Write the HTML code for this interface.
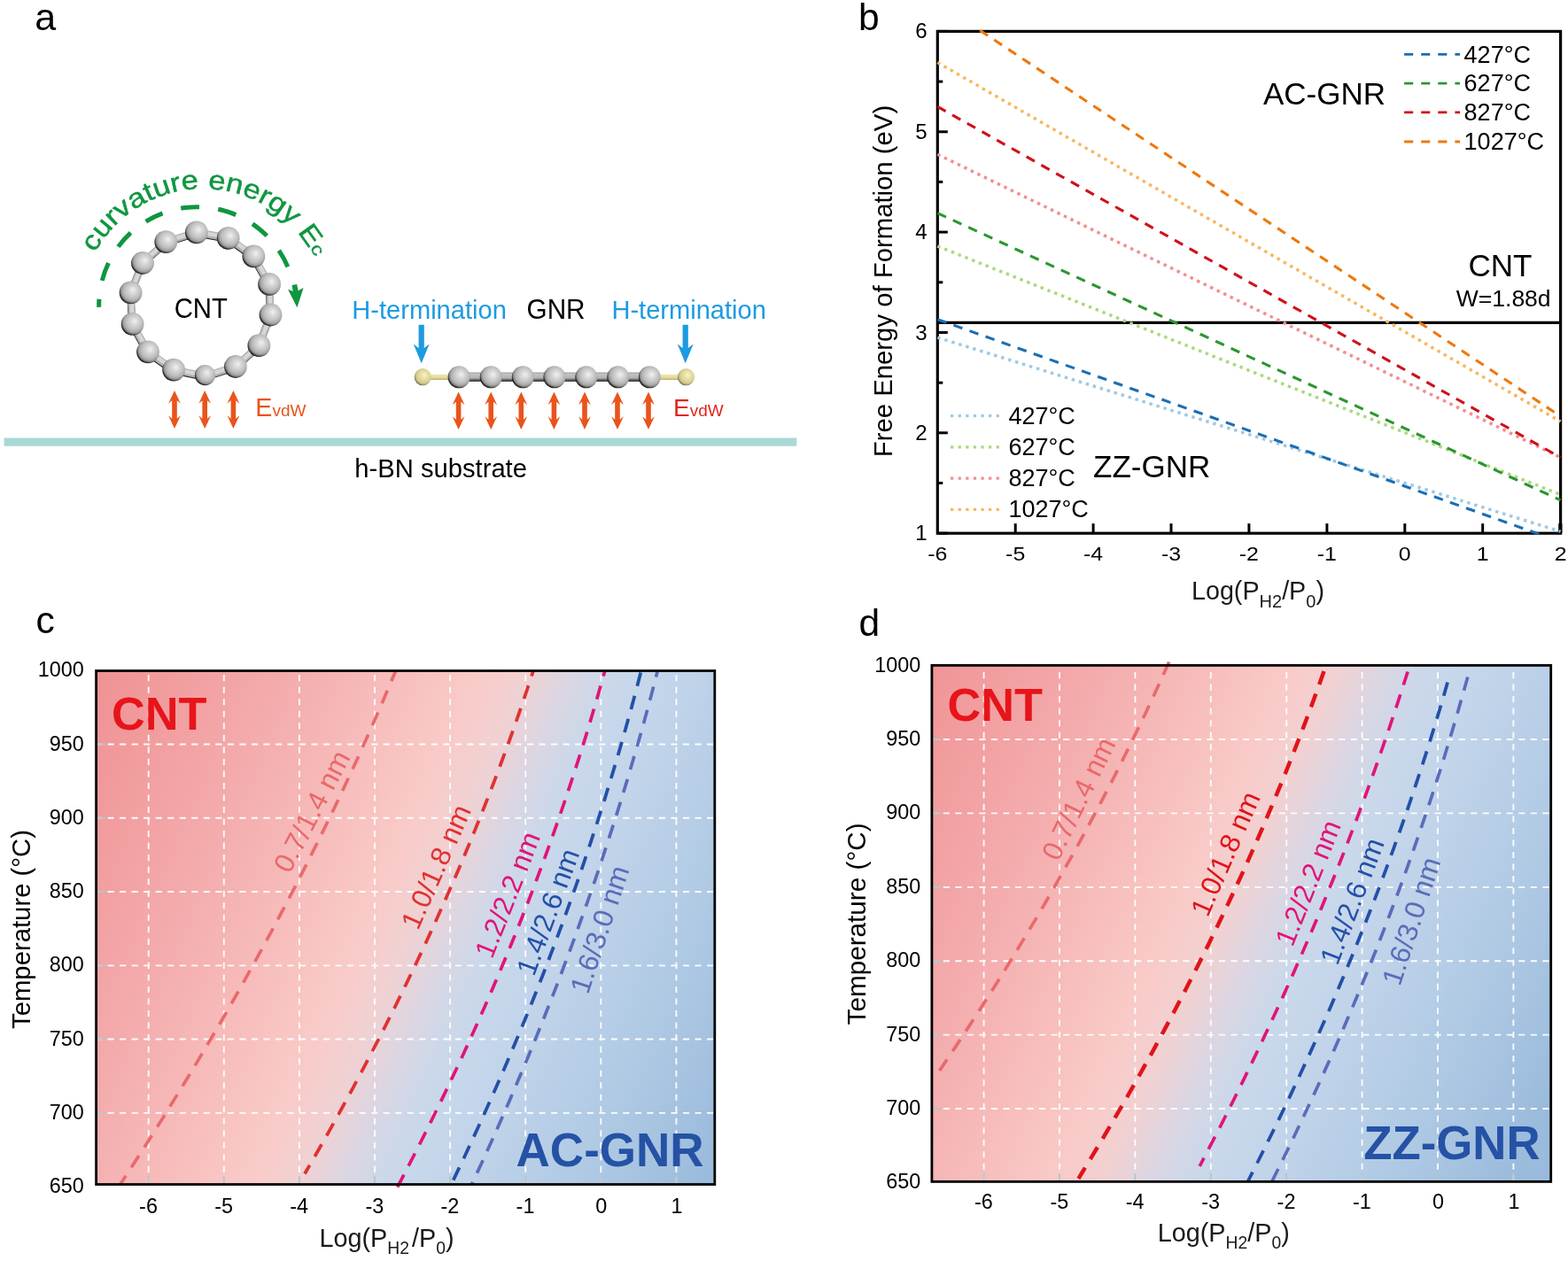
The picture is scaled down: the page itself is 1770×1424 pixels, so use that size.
<!DOCTYPE html>
<html lang="en"><head><meta charset="utf-8"><title>Figure</title>
<style>
html,body{margin:0;padding:0;background:#fff;}
body{width:1770px;height:1424px;overflow:hidden;}
svg{display:block;font-family:'Liberation Sans', sans-serif;}
</style></head><body>
<svg width="1770" height="1424" viewBox="0 0 1770 1424" font-family="'Liberation Sans', sans-serif">

<defs>
<radialGradient id="gC" cx="0.565" cy="0.425" r="0.60" fx="0.60" fy="0.38">
 <stop offset="0" stop-color="#f1f1f1"/>
 <stop offset="0.25" stop-color="#dadada"/>
 <stop offset="0.55" stop-color="#c2c2c2"/>
 <stop offset="0.74" stop-color="#aaaaaa"/>
 <stop offset="0.85" stop-color="#858585"/>
 <stop offset="0.92" stop-color="#3c3c3c"/>
 <stop offset="1" stop-color="#000"/>
</radialGradient>
<radialGradient id="gH" cx="0.565" cy="0.425" r="0.60" fx="0.60" fy="0.38">
 <stop offset="0" stop-color="#f8f3cf"/>
 <stop offset="0.3" stop-color="#ebe2aa"/>
 <stop offset="0.7" stop-color="#d9cf93"/>
 <stop offset="0.88" stop-color="#b3a976"/>
 <stop offset="0.96" stop-color="#6d6645"/>
 <stop offset="1" stop-color="#3a3624"/>
</radialGradient>
<linearGradient id="gBond" x1="0" y1="0" x2="0" y2="1">
 <stop offset="0" stop-color="#8a8a8a"/>
 <stop offset="0.15" stop-color="#c4c4c4"/>
 <stop offset="0.6" stop-color="#b4b4b4"/>
 <stop offset="0.8" stop-color="#6a6a6a"/>
 <stop offset="1" stop-color="#151515"/>
</linearGradient>
<linearGradient id="gBondH" x1="0" y1="0" x2="0" y2="1">
 <stop offset="0" stop-color="#efe8b4"/>
 <stop offset="0.6" stop-color="#e2d99c"/>
 <stop offset="1" stop-color="#b8ae74"/>
</linearGradient>
<linearGradient id="gBondR" x1="0" y1="0" x2="0" y2="1">
 <stop offset="0" stop-color="#9a9a9a"/>
 <stop offset="0.3" stop-color="#d0d0d0"/>
 <stop offset="0.7" stop-color="#b0b0b0"/>
 <stop offset="1" stop-color="#5a5a5a"/>
</linearGradient>
<linearGradient id="gradc" gradientUnits="userSpaceOnUse" x1="87" y1="758" x2="891.3" y2="1117.5"><stop offset="0" stop-color="#ef8f91"/><stop offset="0.25" stop-color="#f4acad"/><stop offset="0.47" stop-color="#f9cbc8"/><stop offset="0.525" stop-color="#f1d1d2"/><stop offset="0.575" stop-color="#dcd6e2"/><stop offset="0.625" stop-color="#cbd8ea"/><stop offset="0.68" stop-color="#c5d6eb"/><stop offset="0.85" stop-color="#b0cae4"/><stop offset="1" stop-color="#9bbbdc"/></linearGradient>
<linearGradient id="gradd" gradientUnits="userSpaceOnUse" x1="1004.3" y1="752" x2="1805.0" y2="1119.5"><stop offset="0" stop-color="#ef8f91"/><stop offset="0.25" stop-color="#f4acad"/><stop offset="0.47" stop-color="#f9cbc8"/><stop offset="0.525" stop-color="#f1d1d2"/><stop offset="0.575" stop-color="#dcd6e2"/><stop offset="0.625" stop-color="#cbd8ea"/><stop offset="0.68" stop-color="#c5d6eb"/><stop offset="0.85" stop-color="#b0cae4"/><stop offset="1" stop-color="#9bbbdc"/></linearGradient>
</defs>

<rect width="1770" height="1424" fill="#fff"/>
<g id="pa">
<text x="39.3" y="33.9" font-size="43" fill="#000">a</text>
<rect x="4.6" y="494.5" width="894.7" height="9.3" fill="#a9d9d4"/>
<text x="400.3" y="538.5" font-size="29.2" fill="#000">h-BN substrate</text>
<line x1="221.5" y1="263.4" x2="257.3" y2="269.8" stroke="#1c1c1c" stroke-width="8.2" />
<line x1="221.9" y1="262.4" x2="257.7" y2="268.8" stroke="#b0b0b0" stroke-width="8.2" />
<line x1="222.2" y1="261.7" x2="258.0" y2="268.1" stroke="#d6d6d6" stroke-width="4.6" />
<line x1="257.3" y1="269.8" x2="286.0" y2="290.4" stroke="#1c1c1c" stroke-width="8.2" />
<line x1="257.7" y1="268.8" x2="286.4" y2="289.4" stroke="#b0b0b0" stroke-width="8.2" />
<line x1="258.0" y1="268.1" x2="286.7" y2="288.7" stroke="#d6d6d6" stroke-width="4.6" />
<line x1="286.0" y1="290.4" x2="303.7" y2="321.9" stroke="#1c1c1c" stroke-width="8.2" />
<line x1="286.4" y1="289.4" x2="304.1" y2="320.9" stroke="#b0b0b0" stroke-width="8.2" />
<line x1="286.7" y1="288.7" x2="304.4" y2="320.2" stroke="#d6d6d6" stroke-width="4.6" />
<line x1="303.7" y1="321.9" x2="305.1" y2="356.5" stroke="#1c1c1c" stroke-width="8.2" />
<line x1="304.1" y1="320.9" x2="305.5" y2="355.5" stroke="#b0b0b0" stroke-width="8.2" />
<line x1="304.4" y1="320.2" x2="305.8" y2="354.8" stroke="#d6d6d6" stroke-width="4.6" />
<line x1="305.1" y1="356.5" x2="292.0" y2="391.1" stroke="#1c1c1c" stroke-width="8.2" />
<line x1="305.5" y1="355.5" x2="292.4" y2="390.1" stroke="#b0b0b0" stroke-width="8.2" />
<line x1="305.8" y1="354.8" x2="292.7" y2="389.4" stroke="#d6d6d6" stroke-width="4.6" />
<line x1="292.0" y1="391.1" x2="265.5" y2="415.0" stroke="#1c1c1c" stroke-width="8.2" />
<line x1="292.4" y1="390.1" x2="265.9" y2="414.0" stroke="#b0b0b0" stroke-width="8.2" />
<line x1="292.7" y1="389.4" x2="266.2" y2="413.3" stroke="#d6d6d6" stroke-width="4.6" />
<line x1="265.5" y1="415.0" x2="231.1" y2="425.8" stroke="#1c1c1c" stroke-width="8.2" />
<line x1="265.9" y1="414.0" x2="231.5" y2="424.8" stroke="#b0b0b0" stroke-width="8.2" />
<line x1="266.2" y1="413.3" x2="231.8" y2="424.1" stroke="#d6d6d6" stroke-width="4.6" />
<line x1="231.1" y1="425.8" x2="195.7" y2="418.6" stroke="#1c1c1c" stroke-width="8.2" />
<line x1="231.5" y1="424.8" x2="196.1" y2="417.6" stroke="#b0b0b0" stroke-width="8.2" />
<line x1="231.8" y1="424.1" x2="196.4" y2="416.9" stroke="#d6d6d6" stroke-width="4.6" />
<line x1="195.7" y1="418.6" x2="166.6" y2="398.3" stroke="#1c1c1c" stroke-width="8.2" />
<line x1="196.1" y1="417.6" x2="167.0" y2="397.3" stroke="#b0b0b0" stroke-width="8.2" />
<line x1="196.4" y1="416.9" x2="167.3" y2="396.6" stroke="#d6d6d6" stroke-width="4.6" />
<line x1="166.6" y1="398.3" x2="149.2" y2="366.8" stroke="#1c1c1c" stroke-width="8.2" />
<line x1="167.0" y1="397.3" x2="149.6" y2="365.8" stroke="#b0b0b0" stroke-width="8.2" />
<line x1="167.3" y1="396.6" x2="149.9" y2="365.1" stroke="#d6d6d6" stroke-width="4.6" />
<line x1="149.2" y1="366.8" x2="147.2" y2="331.4" stroke="#1c1c1c" stroke-width="8.2" />
<line x1="149.6" y1="365.8" x2="147.6" y2="330.4" stroke="#b0b0b0" stroke-width="8.2" />
<line x1="149.9" y1="365.1" x2="147.9" y2="329.7" stroke="#d6d6d6" stroke-width="4.6" />
<line x1="147.2" y1="331.4" x2="160.6" y2="298.0" stroke="#1c1c1c" stroke-width="8.2" />
<line x1="147.6" y1="330.4" x2="161.0" y2="297.0" stroke="#b0b0b0" stroke-width="8.2" />
<line x1="147.9" y1="329.7" x2="161.3" y2="296.3" stroke="#d6d6d6" stroke-width="4.6" />
<line x1="160.6" y1="298.0" x2="186.9" y2="274.1" stroke="#1c1c1c" stroke-width="8.2" />
<line x1="161.0" y1="297.0" x2="187.3" y2="273.1" stroke="#b0b0b0" stroke-width="8.2" />
<line x1="161.3" y1="296.3" x2="187.6" y2="272.4" stroke="#d6d6d6" stroke-width="4.6" />
<line x1="186.9" y1="274.1" x2="221.5" y2="263.4" stroke="#1c1c1c" stroke-width="8.2" />
<line x1="187.3" y1="273.1" x2="221.9" y2="262.4" stroke="#b0b0b0" stroke-width="8.2" />
<line x1="187.6" y1="272.4" x2="222.2" y2="261.7" stroke="#d6d6d6" stroke-width="4.6" />
<circle cx="221.9" cy="262.4" r="12.9" fill="url(#gC)"/>
<circle cx="257.7" cy="268.8" r="12.9" fill="url(#gC)"/>
<circle cx="286.4" cy="289.4" r="12.9" fill="url(#gC)"/>
<circle cx="304.1" cy="320.9" r="12.9" fill="url(#gC)"/>
<circle cx="305.5" cy="355.5" r="12.9" fill="url(#gC)"/>
<circle cx="292.4" cy="390.1" r="12.9" fill="url(#gC)"/>
<circle cx="265.9" cy="414.0" r="12.9" fill="url(#gC)"/>
<circle cx="231.5" cy="423.6" r="11.6" fill="url(#gC)"/>
<circle cx="196.1" cy="417.6" r="12.9" fill="url(#gC)"/>
<circle cx="167.0" cy="397.3" r="12.9" fill="url(#gC)"/>
<circle cx="149.6" cy="365.8" r="12.9" fill="url(#gC)"/>
<circle cx="147.6" cy="330.4" r="12.9" fill="url(#gC)"/>
<circle cx="161.0" cy="297.0" r="12.9" fill="url(#gC)"/>
<circle cx="187.3" cy="273.1" r="12.9" fill="url(#gC)"/>
<text transform="translate(226.8,359.3) scale(1,1.07)" font-size="29.3" text-anchor="middle" fill="#000">CNT</text>
<path d="M111.7,346.9 A111,111 0 0 1 330.9,320.0" fill="none" stroke="#0f9640" stroke-width="5" stroke-dasharray="9.3 21.2 21 21.4 21 21.4 21 21.4 21 21.4 21 21.4 21 21.4 21 400"/>
<path d="M335.4,347.2 L325,326.7 L330.7,328.9 L329.5,321.9 L335.2,320.9 L336.6,328.3 L342.6,325 Z" fill="#0f9640"/>
<path id="arcT" d="M107.2,285.5 A139.1,139.1 0 0 1 366.2,328.1" fill="none"/>
<text font-size="30.3" fill="#0f9640" stroke="#0f9640" stroke-width="0.45"><textPath href="#arcT" startOffset="0" textLength="292.3" lengthAdjust="spacingAndGlyphs">curvature energy E</textPath></text>
<text transform="translate(352.6,285.0) rotate(61.4) scale(1.2,1)" font-size="20" text-anchor="middle" fill="#0f9640" stroke="#0f9640" stroke-width="0.3">c</text>
<path d="M197,441 L203.9,455.8 L199.8,452.2 L199.8,472.8 L203.9,469.2 L197,484 L190.1,469.2 L194.2,472.8 L194.2,452.2 L190.1,455.8 Z" fill="#e9541b"/>
<path d="M231.2,441 L238.1,455.8 L234.0,452.2 L234.0,472.8 L238.1,469.2 L231.2,484 L224.29999999999998,469.2 L228.39999999999998,472.8 L228.39999999999998,452.2 L224.29999999999998,455.8 Z" fill="#e9541b"/>
<path d="M263.4,441 L270.29999999999995,455.8 L266.2,452.2 L266.2,472.8 L270.29999999999995,469.2 L263.4,484 L256.5,469.2 L260.59999999999997,472.8 L260.59999999999997,452.2 L256.5,455.8 Z" fill="#e9541b"/>
<path d="M517.6,442.5 L524.5,457.3 L520.4,453.7 L520.4,473.8 L524.5,470.2 L517.6,485 L510.70000000000005,470.2 L514.8000000000001,473.8 L514.8000000000001,453.7 L510.70000000000005,457.3 Z" fill="#e9541b"/>
<path d="M554.2,442.5 L561.1,457.3 L557.0,453.7 L557.0,473.8 L561.1,470.2 L554.2,485 L547.3000000000001,470.2 L551.4000000000001,473.8 L551.4000000000001,453.7 L547.3000000000001,457.3 Z" fill="#e9541b"/>
<path d="M588.3,442.5 L595.1999999999999,457.3 L591.0999999999999,453.7 L591.0999999999999,473.8 L595.1999999999999,470.2 L588.3,485 L581.4,470.2 L585.5,473.8 L585.5,453.7 L581.4,457.3 Z" fill="#e9541b"/>
<path d="M625.4,442.5 L632.3,457.3 L628.1999999999999,453.7 L628.1999999999999,473.8 L632.3,470.2 L625.4,485 L618.5,470.2 L622.6,473.8 L622.6,453.7 L618.5,457.3 Z" fill="#e9541b"/>
<path d="M660,442.5 L666.9,457.3 L662.8,453.7 L662.8,473.8 L666.9,470.2 L660,485 L653.1,470.2 L657.2,473.8 L657.2,453.7 L653.1,457.3 Z" fill="#e9541b"/>
<path d="M697,442.5 L703.9,457.3 L699.8,453.7 L699.8,473.8 L703.9,470.2 L697,485 L690.1,470.2 L694.2,473.8 L694.2,453.7 L690.1,457.3 Z" fill="#e9541b"/>
<path d="M732,442.5 L738.9,457.3 L734.8,453.7 L734.8,473.8 L738.9,470.2 L732,485 L725.1,470.2 L729.2,473.8 L729.2,453.7 L725.1,457.3 Z" fill="#e9541b"/>
<text x="288.3" y="470.2" font-size="28.6" fill="#e9541b">E<tspan font-size="19">vdW</tspan></text>
<text x="760" y="469.5" font-size="28" fill="#e1261c">E<tspan font-size="19">vdW</tspan></text>
<rect x="518.1" y="420.6" width="215.19999999999993" height="10.2" fill="url(#gBond)"/>
<rect x="482" y="422.8" width="30" height="6.2" fill="url(#gBondH)"/>
<rect x="740" y="422.8" width="30" height="6.2" fill="url(#gBondH)"/>
<circle cx="518.1" cy="425.8" r="12.5" fill="url(#gC)"/>
<circle cx="554.2" cy="425.8" r="12.5" fill="url(#gC)"/>
<circle cx="590.3" cy="425.8" r="12.5" fill="url(#gC)"/>
<circle cx="625.9" cy="425.8" r="12.5" fill="url(#gC)"/>
<circle cx="661.8" cy="425.8" r="12.5" fill="url(#gC)"/>
<circle cx="697.7" cy="425.8" r="12.5" fill="url(#gC)"/>
<circle cx="733.3" cy="425.8" r="12.5" fill="url(#gC)"/>
<circle cx="477.3" cy="425.7" r="9.6" fill="url(#gH)"/>
<circle cx="774.5" cy="425.7" r="9.6" fill="url(#gH)"/>
<text transform="translate(397.3,359.6) scale(1,1.03)" font-size="29.1" fill="#1d9be1">H-termination</text>
<text transform="translate(690.4,359.6) scale(1,1.03)" font-size="29.1" fill="#1d9be1">H-termination</text>
<text transform="translate(594.6,359.6) scale(1,1.03)" font-size="29.7" fill="#000">GNR</text>
<path d="M472.59999999999997,366.7 L478.8,366.7 L478.8,393 L484.7,388.6 L475.7,410.3 L466.7,388.6 L472.59999999999997,393 Z" fill="#1d9be1"/>
<path d="M770.6,366.7 L776.8000000000001,366.7 L776.8000000000001,393 L782.7,388.6 L773.7,410.3 L764.7,388.6 L770.6,393 Z" fill="#1d9be1"/>
</g>
<g id="pb">
<text x="968.9" y="33.9" font-size="42.5" fill="#000">b</text>
<clipPath id="clipb"><rect x="1056.7" y="33.8" width="706.5" height="570.0000000000001"/></clipPath>
<line x1="1058.3" y1="602.2" x2="1069.8" y2="602.2" stroke="#000" stroke-width="3"/>
<text x="1046.6" y="610.2" font-size="24.1" text-anchor="end">1</text>
<line x1="1058.3" y1="545.5" x2="1064.3" y2="545.5" stroke="#000" stroke-width="3"/>
<line x1="1058.3" y1="488.8" x2="1069.8" y2="488.8" stroke="#000" stroke-width="3"/>
<text x="1046.6" y="496.8" font-size="24.1" text-anchor="end">2</text>
<line x1="1058.3" y1="432.2" x2="1064.3" y2="432.2" stroke="#000" stroke-width="3"/>
<line x1="1058.3" y1="375.5" x2="1069.8" y2="375.5" stroke="#000" stroke-width="3"/>
<text x="1046.6" y="383.5" font-size="24.1" text-anchor="end">3</text>
<line x1="1058.3" y1="318.8" x2="1064.3" y2="318.8" stroke="#000" stroke-width="3"/>
<line x1="1058.3" y1="262.1" x2="1069.8" y2="262.1" stroke="#000" stroke-width="3"/>
<text x="1046.6" y="270.1" font-size="24.1" text-anchor="end">4</text>
<line x1="1058.3" y1="205.4" x2="1064.3" y2="205.4" stroke="#000" stroke-width="3"/>
<line x1="1058.3" y1="148.8" x2="1069.8" y2="148.8" stroke="#000" stroke-width="3"/>
<text x="1046.6" y="156.8" font-size="24.1" text-anchor="end">5</text>
<line x1="1058.3" y1="92.1" x2="1064.3" y2="92.1" stroke="#000" stroke-width="3"/>
<line x1="1058.3" y1="35.4" x2="1069.8" y2="35.4" stroke="#000" stroke-width="3"/>
<text x="1046.6" y="43.4" font-size="24.1" text-anchor="end">6</text>
<text transform="translate(1058.3,633.3) scale(1.06,0.94)" font-size="23.5" text-anchor="middle">-6</text>
<line x1="1146.2" y1="602.2" x2="1146.2" y2="591.2" stroke="#000" stroke-width="3"/>
<text transform="translate(1146.2,633.3) scale(1.06,0.94)" font-size="23.5" text-anchor="middle">-5</text>
<line x1="1234.1" y1="602.2" x2="1234.1" y2="591.2" stroke="#000" stroke-width="3"/>
<text transform="translate(1234.1,633.3) scale(1.06,0.94)" font-size="23.5" text-anchor="middle">-4</text>
<line x1="1322.0" y1="602.2" x2="1322.0" y2="591.2" stroke="#000" stroke-width="3"/>
<text transform="translate(1322.0,633.3) scale(1.06,0.94)" font-size="23.5" text-anchor="middle">-3</text>
<line x1="1409.9" y1="602.2" x2="1409.9" y2="591.2" stroke="#000" stroke-width="3"/>
<text transform="translate(1409.9,633.3) scale(1.06,0.94)" font-size="23.5" text-anchor="middle">-2</text>
<line x1="1497.9" y1="602.2" x2="1497.9" y2="591.2" stroke="#000" stroke-width="3"/>
<text transform="translate(1497.9,633.3) scale(1.06,0.94)" font-size="23.5" text-anchor="middle">-1</text>
<line x1="1585.8" y1="602.2" x2="1585.8" y2="591.2" stroke="#000" stroke-width="3"/>
<text transform="translate(1585.8,633.3) scale(1.06,0.94)" font-size="23.5" text-anchor="middle">0</text>
<line x1="1673.7" y1="602.2" x2="1673.7" y2="591.2" stroke="#000" stroke-width="3"/>
<text transform="translate(1673.7,633.3) scale(1.06,0.94)" font-size="23.5" text-anchor="middle">1</text>
<text transform="translate(1761.6,633.3) scale(1.06,0.94)" font-size="23.5" text-anchor="middle">2</text>
<line x1="1761.3" y1="602.2" x2="1761.3" y2="591.2" stroke="#000" stroke-width="4.2"/>
<line x1="1058.3" y1="364.3" x2="1761.6" y2="364.3" stroke="#000" stroke-width="3.2"/>
<rect x="1058.3" y="35.4" width="703.3" height="566.8000000000001" fill="none" stroke="#000" stroke-width="3.2"/>
<g clip-path="url(#clipb)" fill="none">
<line x1="1058.3" y1="381.1" x2="1761.6" y2="600.2" stroke="#9fc9e2" stroke-width="3.5" stroke-dasharray="3.5 4.85"/>
<line x1="1058.3" y1="278.0" x2="1761.6" y2="558.6" stroke="#abd97d" stroke-width="3.5" stroke-dasharray="3.5 4.85"/>
<line x1="1058.3" y1="174.3" x2="1761.6" y2="516.6" stroke="#f28f91" stroke-width="3.5" stroke-dasharray="3.5 4.85"/>
<line x1="1058.3" y1="70.5" x2="1761.6" y2="476.0" stroke="#fab663" stroke-width="3.5" stroke-dasharray="3.5 4.85"/>
<line x1="1058.3" y1="360.7" x2="1761.6" y2="611.8" stroke="#1b6fb3" stroke-width="3.1" stroke-dasharray="10.6 8.6"/>
<line x1="1058.3" y1="240.6" x2="1761.6" y2="564.8" stroke="#2b972f" stroke-width="3.1" stroke-dasharray="10.6 8.6"/>
<line x1="1058.3" y1="120.4" x2="1761.6" y2="516.6" stroke="#cf1118" stroke-width="3.1" stroke-dasharray="10.6 8.6"/>
<line x1="1058.3" y1="2.5" x2="1761.6" y2="470.1" stroke="#ee780f" stroke-width="3.1" stroke-dasharray="10.6 8.6"/>
</g>
<text transform="translate(1006.8,317.5) rotate(-90)" font-size="29.3" text-anchor="middle">Free Energy of Formation (eV)</text>
<text x="1345.0" y="677.3" font-size="28.7" fill="#1a1a1a">Log(P<tspan font-size="20" dy="8.5">H2</tspan><tspan dy="-8.5" dx="0.0">/P</tspan><tspan font-size="20" dy="8.5">0</tspan><tspan dy="-8.5">)</tspan></text>
<line x1="1585.1" y1="61.4" x2="1648" y2="61.4" stroke="#1b6fb3" stroke-width="2.9" stroke-dasharray="10.1 9"/>
<text x="1652.6" y="70.5" font-size="27">427°C</text>
<line x1="1585.1" y1="94.1" x2="1648" y2="94.1" stroke="#2b972f" stroke-width="2.9" stroke-dasharray="10.1 9"/>
<text x="1652.6" y="103.2" font-size="27">627°C</text>
<line x1="1585.1" y1="126.9" x2="1648" y2="126.9" stroke="#cf1118" stroke-width="2.9" stroke-dasharray="10.1 9"/>
<text x="1652.6" y="136.0" font-size="27">827°C</text>
<line x1="1585.1" y1="160" x2="1648" y2="160" stroke="#ee780f" stroke-width="2.9" stroke-dasharray="10.1 9"/>
<text x="1652.6" y="169.1" font-size="27">1027°C</text>
<line x1="1073" y1="469.7" x2="1128" y2="469.7" stroke="#9fc9e2" stroke-width="3.3" stroke-dasharray="3.3 5.3"/>
<text x="1138.5" y="478.8" font-size="27">427°C</text>
<line x1="1073" y1="504.8" x2="1128" y2="504.8" stroke="#abd97d" stroke-width="3.3" stroke-dasharray="3.3 5.3"/>
<text x="1138.5" y="513.9" font-size="27">627°C</text>
<line x1="1073" y1="540.2" x2="1128" y2="540.2" stroke="#f28f91" stroke-width="3.3" stroke-dasharray="3.3 5.3"/>
<text x="1138.5" y="549.3" font-size="27">827°C</text>
<line x1="1073" y1="575.3" x2="1128" y2="575.3" stroke="#fab663" stroke-width="3.3" stroke-dasharray="3.3 5.3"/>
<text x="1138.5" y="584.4" font-size="27">1027°C</text>
<text x="1426" y="118.2" font-size="35">AC-GNR</text>
<text x="1234" y="539.3" font-size="35">ZZ-GNR</text>
<text x="1657.5" y="312.1" font-size="35">CNT</text>
<text x="1643.8" y="345.9" font-size="26.5">W=1.88d</text>
</g>
<g id="pc">
<text x="40.6" y="714.8" font-size="42.5" fill="#000">c</text>
<clipPath id="clippc"><rect x="108.6" y="757.5" width="698.1999999999999" height="580.0"/></clipPath>
<rect x="108.6" y="757.5" width="698.1999999999999" height="580.0" fill="url(#gradc)"/>
<g stroke="#fff" stroke-width="1.85" stroke-dasharray="7.1 6.43" fill="none" clip-path="url(#clippc)" opacity="0.95">
<line x1="167.7" y1="1337.5" x2="167.7" y2="757.5"/>
<line x1="252.8" y1="1337.5" x2="252.8" y2="757.5"/>
<line x1="337.9" y1="1337.5" x2="337.9" y2="757.5"/>
<line x1="423.0" y1="1337.5" x2="423.0" y2="757.5"/>
<line x1="508.1" y1="1337.5" x2="508.1" y2="757.5"/>
<line x1="593.2" y1="1337.5" x2="593.2" y2="757.5"/>
<line x1="678.3" y1="1337.5" x2="678.3" y2="757.5"/>
<line x1="763.4" y1="1337.5" x2="763.4" y2="757.5"/>
<line x1="108.0" y1="840.5" x2="806.8" y2="840.5"/>
<line x1="108.0" y1="923.7" x2="806.8" y2="923.7"/>
<line x1="108.0" y1="1007.0" x2="806.8" y2="1007.0"/>
<line x1="108.0" y1="1090.3" x2="806.8" y2="1090.3"/>
<line x1="108.0" y1="1173.5" x2="806.8" y2="1173.5"/>
<line x1="108.0" y1="1256.8" x2="806.8" y2="1256.8"/>
</g>
<g stroke="#b7c6c8" stroke-width="2.2">
<line x1="167.7" y1="1328.2" x2="167.7" y2="1336.5"/>
<line x1="252.8" y1="1328.2" x2="252.8" y2="1336.5"/>
<line x1="337.9" y1="1328.2" x2="337.9" y2="1336.5"/>
<line x1="423.0" y1="1328.2" x2="423.0" y2="1336.5"/>
<line x1="508.1" y1="1328.2" x2="508.1" y2="1336.5"/>
<line x1="593.2" y1="1328.2" x2="593.2" y2="1336.5"/>
<line x1="678.3" y1="1328.2" x2="678.3" y2="1336.5"/>
<line x1="763.4" y1="1328.2" x2="763.4" y2="1336.5"/>
<line x1="109.6" y1="840.5" x2="118.8" y2="840.5"/>
<line x1="109.6" y1="923.7" x2="118.8" y2="923.7"/>
<line x1="109.6" y1="1007.0" x2="118.8" y2="1007.0"/>
<line x1="109.6" y1="1090.3" x2="118.8" y2="1090.3"/>
<line x1="109.6" y1="1173.5" x2="118.8" y2="1173.5"/>
<line x1="109.6" y1="1256.8" x2="118.8" y2="1256.8"/>
</g>
<path d="M446.7,757.5 L436.5,781.6 L426.2,805.8 L415.5,829.9 L404.7,854.1 L393.5,878.2 L382.2,902.4 L370.6,926.5 L358.7,950.7 L346.6,974.8 L334.3,999.0 L321.7,1023.1 L308.9,1047.2 L295.8,1071.4 L282.5,1095.5 L269.0,1119.7 L255.2,1143.8 L241.1,1168.0 L226.8,1192.1 L212.3,1216.3 L197.5,1240.4 L182.5,1264.6 L167.3,1288.7 L151.7,1312.9 L136.0,1337.0" fill="none" stroke="#e9696d" stroke-width="3.7" stroke-dasharray="15.8 11.3" stroke-dashoffset="3" clip-path="url(#clippc)"/>
<path d="M602.0,757.5 L594.2,781.2 L586.1,804.8 L577.8,828.5 L569.2,852.2 L560.4,875.8 L551.3,899.5 L541.9,923.2 L532.3,946.8 L522.4,970.5 L512.3,994.2 L501.9,1017.8 L491.3,1041.5 L480.4,1065.2 L469.3,1088.8 L457.9,1112.5 L446.3,1136.2 L434.4,1159.8 L422.2,1183.5 L409.8,1207.2 L397.2,1230.8 L384.3,1254.5 L371.1,1278.2 L357.7,1301.8 L344.0,1325.5" fill="none" stroke="#e03232" stroke-width="3.8" stroke-dasharray="15.8 11.3" stroke-dashoffset="9.5" clip-path="url(#clippc)"/>
<path d="M682.8,757.5 L675.9,781.9 L668.8,806.2 L661.5,830.6 L653.9,854.9 L646.0,879.3 L637.9,903.6 L629.5,928.0 L620.9,952.3 L612.0,976.7 L602.9,1001.0 L593.5,1025.4 L583.8,1049.8 L573.9,1074.1 L563.7,1098.5 L553.3,1122.8 L542.6,1147.2 L531.7,1171.5 L520.5,1195.9 L509.0,1220.2 L497.3,1244.6 L485.3,1268.9 L473.1,1293.3 L460.6,1317.6 L447.9,1342.0" fill="none" stroke="#e0147a" stroke-width="3.7" stroke-dasharray="15.8 11.3" stroke-dashoffset="9.5"/>
<path d="M723.8,757.5 L717.5,781.6 L711.0,805.8 L704.2,829.9 L697.3,854.1 L690.0,878.2 L682.6,902.4 L674.9,926.5 L667.0,950.7 L658.9,974.8 L650.6,999.0 L642.0,1023.1 L633.2,1047.2 L624.1,1071.4 L614.9,1095.5 L605.4,1119.7 L595.7,1143.8 L585.7,1168.0 L575.5,1192.1 L565.1,1216.3 L554.5,1240.4 L543.6,1264.6 L532.5,1288.7 L521.2,1312.9 L509.6,1337.0" fill="none" stroke="#2350a8" stroke-width="3.8" stroke-dasharray="15.8 11.3" stroke-dashoffset="-2" clip-path="url(#clippc)"/>
<path d="M742.3,757.5 L736.1,781.6 L729.6,805.8 L722.9,829.9 L715.9,854.1 L708.8,878.2 L701.5,902.4 L693.9,926.5 L686.1,950.7 L678.2,974.8 L670.0,999.0 L661.5,1023.1 L652.9,1047.2 L644.1,1071.4 L635.0,1095.5 L625.8,1119.7 L616.3,1143.8 L606.6,1168.0 L596.7,1192.1 L586.5,1216.3 L576.2,1240.4 L565.7,1264.6 L554.9,1288.7 L543.9,1312.9 L532.7,1337.0" fill="none" stroke="#5a6cb9" stroke-width="3.7" stroke-dasharray="15.8 11.3" stroke-dashoffset="8.5" clip-path="url(#clippc)"/>
<text x="126" y="823.7" font-size="52.3" font-weight="bold" fill="#e7141a">CNT</text>
<text x="582.6" y="1317.2" font-size="53" font-weight="bold" fill="#2552a5">AC-GNR</text>
<text transform="translate(327.1,987.4) rotate(-62.5)" font-size="31.6" fill="#e9686c">0.7/1.4 nm</text>
<text transform="translate(471.8,1051.4) rotate(-66)" font-size="31.6" fill="#e03232">1.0/1.8 nm</text>
<text transform="translate(555.6,1083.7) rotate(-68.4)" font-size="31.6" fill="#e0147a">1.2/2.2 nm</text>
<text transform="translate(602.8,1103.5) rotate(-69.7)" font-size="31.6" fill="#2350a8">1.4/2.6 nm</text>
<text transform="translate(663.8,1123.8) rotate(-71.7)" font-size="31.6" fill="#5a6cb9">1.6/3.0 nm</text>
<rect x="108.6" y="757.5" width="698.1999999999999" height="580.0" fill="none" stroke="#000" stroke-width="2.8"/>
<text x="94.8" y="764.2" font-size="23.4" text-anchor="end">1000</text>
<text x="94.8" y="847.5" font-size="23.4" text-anchor="end">950</text>
<text x="94.8" y="930.7" font-size="23.4" text-anchor="end">900</text>
<text x="94.8" y="1014.0" font-size="23.4" text-anchor="end">850</text>
<text x="94.8" y="1097.3" font-size="23.4" text-anchor="end">800</text>
<text x="94.8" y="1180.5" font-size="23.4" text-anchor="end">750</text>
<text x="94.8" y="1263.8" font-size="23.4" text-anchor="end">700</text>
<text x="94.8" y="1347.1" font-size="23.4" text-anchor="end">650</text>
<text x="167.5" y="1369.5" font-size="23.4" text-anchor="middle">-6</text>
<text x="252.6" y="1369.5" font-size="23.4" text-anchor="middle">-5</text>
<text x="337.7" y="1369.5" font-size="23.4" text-anchor="middle">-4</text>
<text x="422.8" y="1369.5" font-size="23.4" text-anchor="middle">-3</text>
<text x="507.9" y="1369.5" font-size="23.4" text-anchor="middle">-2</text>
<text x="593.0" y="1369.5" font-size="23.4" text-anchor="middle">-1</text>
<text x="678.8" y="1369.5" font-size="23.4" text-anchor="middle">0</text>
<text x="763.9" y="1369.5" font-size="23.4" text-anchor="middle">1</text>
<text transform="translate(34.3,1049.5) rotate(-90)" font-size="29.3" text-anchor="middle">Temperature (°C)</text>
<text x="360.4" y="1407.9" font-size="28.8" fill="#1a1a1a">Log(P<tspan font-size="19.3" dy="8.2">H2</tspan><tspan dy="-8.2" dx="3.2">/P</tspan><tspan font-size="19.3" dy="8.2">0</tspan><tspan dy="-8.2">)</tspan></text>
</g>
<g id="pd">
<text x="969.6" y="717.8" font-size="42.5" fill="#000">d</text>
<clipPath id="clippd"><rect x="1051.9" y="751.4" width="698.8" height="583.0000000000001"/></clipPath>
<rect x="1051.9" y="751.4" width="698.8" height="583.0000000000001" fill="url(#gradd)"/>
<g stroke="#fff" stroke-width="1.85" stroke-dasharray="7.1 6.43" fill="none" clip-path="url(#clippd)" opacity="0.95">
<line x1="1110.6" y1="1334.4" x2="1110.6" y2="751.4"/>
<line x1="1196.0" y1="1334.4" x2="1196.0" y2="751.4"/>
<line x1="1281.4" y1="1334.4" x2="1281.4" y2="751.4"/>
<line x1="1366.8" y1="1334.4" x2="1366.8" y2="751.4"/>
<line x1="1452.2" y1="1334.4" x2="1452.2" y2="751.4"/>
<line x1="1537.6" y1="1334.4" x2="1537.6" y2="751.4"/>
<line x1="1623.0" y1="1334.4" x2="1623.0" y2="751.4"/>
<line x1="1708.4" y1="1334.4" x2="1708.4" y2="751.4"/>
<line x1="1051.3000000000002" y1="835.0" x2="1750.7" y2="835.0"/>
<line x1="1051.3000000000002" y1="918.4" x2="1750.7" y2="918.4"/>
<line x1="1051.3000000000002" y1="1001.8" x2="1750.7" y2="1001.8"/>
<line x1="1051.3000000000002" y1="1085.2" x2="1750.7" y2="1085.2"/>
<line x1="1051.3000000000002" y1="1168.6" x2="1750.7" y2="1168.6"/>
<line x1="1051.3000000000002" y1="1252.0" x2="1750.7" y2="1252.0"/>
</g>
<g stroke="#b7c6c8" stroke-width="2.2">
<line x1="1110.6" y1="1325.1000000000001" x2="1110.6" y2="1333.4"/>
<line x1="1196.0" y1="1325.1000000000001" x2="1196.0" y2="1333.4"/>
<line x1="1281.4" y1="1325.1000000000001" x2="1281.4" y2="1333.4"/>
<line x1="1366.8" y1="1325.1000000000001" x2="1366.8" y2="1333.4"/>
<line x1="1452.2" y1="1325.1000000000001" x2="1452.2" y2="1333.4"/>
<line x1="1537.6" y1="1325.1000000000001" x2="1537.6" y2="1333.4"/>
<line x1="1623.0" y1="1325.1000000000001" x2="1623.0" y2="1333.4"/>
<line x1="1708.4" y1="1325.1000000000001" x2="1708.4" y2="1333.4"/>
<line x1="1052.9" y1="835.0" x2="1062.1000000000001" y2="835.0"/>
<line x1="1052.9" y1="918.4" x2="1062.1000000000001" y2="918.4"/>
<line x1="1052.9" y1="1001.8" x2="1062.1000000000001" y2="1001.8"/>
<line x1="1052.9" y1="1085.2" x2="1062.1000000000001" y2="1085.2"/>
<line x1="1052.9" y1="1168.6" x2="1062.1000000000001" y2="1168.6"/>
<line x1="1052.9" y1="1252.0" x2="1062.1000000000001" y2="1252.0"/>
</g>
<path d="M1319.7,747.5 L1311.0,766.7 L1302.2,786.0 L1293.2,805.2 L1283.9,824.4 L1274.5,843.6 L1264.9,862.9 L1255.2,882.1 L1245.2,901.3 L1235.0,920.6 L1224.7,939.8 L1214.2,959.0 L1203.5,978.2 L1192.6,997.5 L1181.5,1016.7 L1170.3,1035.9 L1158.8,1055.2 L1147.2,1074.4 L1135.4,1093.6 L1123.4,1112.9 L1111.2,1132.1 L1098.8,1151.3 L1086.3,1170.5 L1073.5,1189.8 L1060.6,1209.0" fill="none" stroke="#e9696d" stroke-width="3.7" stroke-dasharray="15.8 11.3" stroke-dashoffset="0"/>
<path d="M1494.5,758.0 L1486.0,781.9 L1477.2,805.8 L1468.1,829.6 L1458.8,853.5 L1449.3,877.4 L1439.4,901.2 L1429.3,925.1 L1419.0,949.0 L1408.4,972.9 L1397.5,996.8 L1386.3,1020.6 L1374.9,1044.5 L1363.2,1068.4 L1351.3,1092.2 L1339.1,1116.1 L1326.6,1140.0 L1313.9,1163.9 L1300.9,1187.8 L1287.6,1211.6 L1274.1,1235.5 L1260.3,1259.4 L1246.3,1283.2 L1231.9,1307.1 L1217.4,1331.0" fill="none" stroke="#e0141a" stroke-width="4.5" stroke-dasharray="15.8 11.3" stroke-dashoffset="0" clip-path="url(#clippd)"/>
<path d="M1589.1,758.5 L1581.6,781.8 L1574.0,805.0 L1566.2,828.3 L1558.1,851.6 L1549.9,874.9 L1541.5,898.1 L1532.8,921.4 L1523.9,944.7 L1514.9,967.9 L1505.6,991.2 L1496.1,1014.5 L1486.5,1037.8 L1476.6,1061.0 L1466.5,1084.3 L1456.2,1107.6 L1445.7,1130.8 L1434.9,1154.1 L1424.0,1177.4 L1412.9,1200.6 L1401.6,1223.9 L1390.0,1247.2 L1378.3,1270.5 L1366.3,1293.7 L1354.2,1317.0" fill="none" stroke="#e0147a" stroke-width="3.7" stroke-dasharray="15.8 11.3" stroke-dashoffset="0" clip-path="url(#clippd)"/>
<path d="M1634.1,770.5 L1627.3,794.0 L1620.2,817.5 L1612.9,840.9 L1605.4,864.4 L1597.6,887.9 L1589.7,911.4 L1581.5,934.9 L1573.1,958.3 L1564.5,981.8 L1555.7,1005.3 L1546.6,1028.8 L1537.3,1052.2 L1527.8,1075.7 L1518.1,1099.2 L1508.1,1122.7 L1498.0,1146.2 L1487.6,1169.6 L1477.0,1193.1 L1466.1,1216.6 L1455.1,1240.1 L1443.8,1263.6 L1432.3,1287.0 L1420.6,1310.5 L1408.7,1334.0" fill="none" stroke="#2350a8" stroke-width="3.8" stroke-dasharray="15.8 11.3" stroke-dashoffset="0" clip-path="url(#clippd)"/>
<path d="M1656.8,764.5 L1650.1,788.2 L1643.3,812.0 L1636.2,835.7 L1629.0,859.4 L1621.4,883.1 L1613.7,906.9 L1605.7,930.6 L1597.5,954.3 L1589.1,978.1 L1580.5,1001.8 L1571.6,1025.5 L1562.5,1049.2 L1553.2,1073.0 L1543.7,1096.7 L1533.9,1120.4 L1523.9,1144.2 L1513.7,1167.9 L1503.3,1191.6 L1492.6,1215.4 L1481.7,1239.1 L1470.6,1262.8 L1459.3,1286.5 L1447.7,1310.3 L1435.9,1334.0" fill="none" stroke="#5a6cb9" stroke-width="3.7" stroke-dasharray="15.8 11.3" stroke-dashoffset="0" clip-path="url(#clippd)"/>
<text x="1069.5" y="813.5" font-size="52.3" font-weight="bold" fill="#e7141a">CNT</text>
<text x="1539.2" y="1308.6" font-size="52.8" font-weight="bold" fill="#2552a5">ZZ-GNR</text>
<text transform="translate(1194.4,973.7) rotate(-63.9)" font-size="31.6" fill="#e9686c">0.7/1.4 nm</text>
<text transform="translate(1363.2,1036.8) rotate(-66.3)" font-size="31.6" fill="#e0141a">1.0/1.8 nm</text>
<text transform="translate(1458.9,1070.3) rotate(-68.2)" font-size="31.6" fill="#e0147a">1.2/2.2 nm</text>
<text transform="translate(1509.8,1091.2) rotate(-69.1)" font-size="31.6" fill="#2350a8">1.4/2.6 nm</text>
<text transform="translate(1580.3,1114.5) rotate(-71.9)" font-size="31.6" fill="#5a6cb9">1.6/3.0 nm</text>
<rect x="1051.9" y="751.4" width="698.8" height="583.0000000000001" fill="none" stroke="#000" stroke-width="2.8"/>
<text x="1039.2" y="758.6" font-size="23.4" text-anchor="end">1000</text>
<text x="1039.2" y="842.0" font-size="23.4" text-anchor="end">950</text>
<text x="1039.2" y="925.4" font-size="23.4" text-anchor="end">900</text>
<text x="1039.2" y="1008.8" font-size="23.4" text-anchor="end">850</text>
<text x="1039.2" y="1092.2" font-size="23.4" text-anchor="end">800</text>
<text x="1039.2" y="1175.6" font-size="23.4" text-anchor="end">750</text>
<text x="1039.2" y="1259.0" font-size="23.4" text-anchor="end">700</text>
<text x="1039.2" y="1342.4" font-size="23.4" text-anchor="end">650</text>
<text x="1110.4" y="1365.3" font-size="23.4" text-anchor="middle">-6</text>
<text x="1195.8" y="1365.3" font-size="23.4" text-anchor="middle">-5</text>
<text x="1281.2" y="1365.3" font-size="23.4" text-anchor="middle">-4</text>
<text x="1366.6" y="1365.3" font-size="23.4" text-anchor="middle">-3</text>
<text x="1452.0" y="1365.3" font-size="23.4" text-anchor="middle">-2</text>
<text x="1537.4" y="1365.3" font-size="23.4" text-anchor="middle">-1</text>
<text x="1623.5" y="1365.3" font-size="23.4" text-anchor="middle">0</text>
<text x="1708.9" y="1365.3" font-size="23.4" text-anchor="middle">1</text>
<text transform="translate(977,1043.4) rotate(-90)" font-size="29.7" text-anchor="middle">Temperature (°C)</text>
<text x="1306.7" y="1401.9" font-size="28.8" fill="#1a1a1a">Log(P<tspan font-size="19.3" dy="8.2">H2</tspan><tspan dy="-8.2" dx="0">/P</tspan><tspan font-size="19.3" dy="8.2">0</tspan><tspan dy="-8.2">)</tspan></text>
</g>
</svg>
</body></html>
